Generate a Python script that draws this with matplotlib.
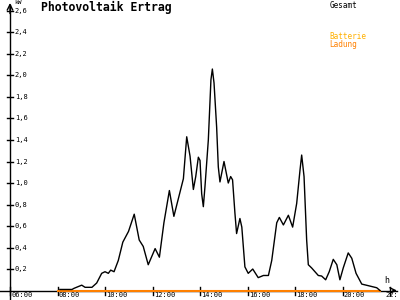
import numpy as np
import matplotlib
matplotlib.use('Agg')
import matplotlib.pyplot as plt

hours = [8.10, 8.61, 8.69, 9.02, 9.16, 9.45, 9.65, 9.86, 10.00, 10.14, 10.24, 10.38,
         10.56, 10.75, 10.99, 11.23, 11.44, 11.61, 11.82, 12.11, 12.29, 12.48, 12.71,
         12.90, 13.30, 13.44, 13.58, 13.72, 13.82, 13.93, 14.00, 14.07, 14.14, 14.21,
         14.35, 14.46, 14.52, 14.59, 14.70, 14.77, 14.84, 15.01, 15.19, 15.29, 15.37,
         15.47, 15.54, 15.68, 15.76, 15.89, 16.03, 16.22, 16.45, 16.67, 16.88, 17.02,
         17.23, 17.34, 17.51, 17.72, 17.90, 18.07, 18.21, 18.28, 18.38, 18.49, 18.56,
         18.70, 18.98, 19.12, 19.29, 19.44, 19.61, 19.76, 19.89, 20.03, 20.24, 20.39,
         20.57, 20.81, 21.09, 21.44, 21.58]
gesamt = [0.01, 0.01, 0.02, 0.05, 0.03, 0.03, 0.07, 0.16, 0.175, 0.16, 0.19, 0.175,
          0.28, 0.45, 0.55, 0.71, 0.47, 0.41, 0.24, 0.39, 0.31, 0.63, 0.93,
          0.69, 1.04, 1.43, 1.25, 0.94, 1.06, 1.24, 1.21, 0.90, 0.78, 0.97,
          1.40, 1.96, 2.06, 1.93, 1.52, 1.15, 1.01, 1.20, 1.00, 1.06, 1.03,
          0.72, 0.53, 0.67, 0.59, 0.22, 0.16, 0.20, 0.12, 0.14, 0.14, 0.28,
          0.63, 0.68, 0.61, 0.70, 0.59, 0.81, 1.12, 1.26, 1.06, 0.47, 0.24,
          0.21, 0.14, 0.135, 0.10, 0.175, 0.29, 0.24, 0.10, 0.21, 0.35, 0.30,
          0.16, 0.06, 0.045, 0.026, 0.0]

# Ladung liegt den ganzen Tag bei 0
ladung_hours = [8.03, 21.58]
ladung = [0.0, 0.0]

yticks = [0.2, 0.4, 0.6, 0.8, 1.0, 1.2, 1.4, 1.6, 1.8, 2.0, 2.2, 2.4, 2.6]
xticks = [6, 8, 10, 12, 14, 16, 18, 20, 22]
xlabels = ['06:00', '08:00', '10:00', '12:00', '14:00', '16:00', '18:00', '20:00', '22:']

mono = 'DejaVu Sans Mono'
fig = plt.figure(figsize=(4, 3), dpi=100)
ax = fig.add_axes([0, 0, 1, 1])
ax.set_xlim(5.579, 22.42)
ax.set_ylim(-0.088, 2.702)
ax.axis('off')

# Achsen
ax.plot([5.579, 22.3], [0, 0], color='black', lw=1)
ax.plot([6, 6], [-0.088, 2.66], color='black', lw=1)
ax.annotate('', xy=(22.41, 0), xytext=(22.0, 0),
            arrowprops=dict(arrowstyle='->', color='black', lw=1))
ax.annotate('', xy=(6, 2.70), xytext=(6, 2.55),
            arrowprops=dict(arrowstyle='->', color='black', lw=1))

for y in yticks:
    ax.plot([5.87, 6.13], [y, y], color='black', lw=1)
    ax.text(6.2, y, ('%.1f' % y).replace('.', ','), fontsize=5, family=mono,
            va='center', ha='left')
for x, lab in zip(xticks, xlabels):
    ax.plot([x, x], [-0.04, 0.03], color='black', lw=1)
    xpos = x + 0.05 if x < 22 else x - 0.2
    ax.text(xpos, -0.018, lab, fontsize=5, family=mono, va='top', ha='left')

ax.text(6.2, 2.705, 'kW', fontsize=4.5, family=mono, va='top', ha='left')
ax.text(21.75, 0.05, 'h', fontsize=6, family=mono, va='bottom', ha='left')

# Kurven
ax.plot(ladung_hours, ladung, color='#ff8000', lw=1.5, zorder=3)
ax.plot(hours, gesamt, color='black', lw=1, zorder=4)

ax.text(7.3, 2.69, 'Photovoltaik Ertrag', fontsize=8.3, family=mono,
        fontweight='bold', va='top', ha='left')
ax.text(19.45, 2.69, 'Gesamt', fontsize=5.5, family=mono, va='top', ha='left')
ax.text(19.45, 2.40, 'Batterie', fontsize=5.5, family=mono, color='#ffb000',
        va='top', ha='left')
ax.text(19.45, 2.33, 'Ladung', fontsize=5.5, family=mono, color='#ff8000',
        va='top', ha='left')

fig.savefig('out.png', dpi=100)
